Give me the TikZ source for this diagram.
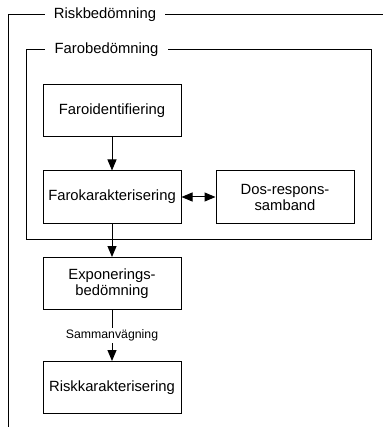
\documentclass[tikz,border=0pt]{standalone}
\usepackage{fontspec}
\setmainfont{Liberation Sans}
\usetikzlibrary{arrows.meta}
\tikzstyle{box}=[draw=black, line width=1pt, minimum width=138pt, minimum height=52pt, align=center, inner sep=0pt, font=\fontsize{14.8}{16}\selectfont]
\tikzstyle{frametitle}=[fill=white, inner sep=0pt, minimum height=16pt, font=\fontsize{14.8}{16}\selectfont]
\tikzstyle{pil}=[line width=1pt, -{Triangle[length=11pt,width=9pt]}]

\begin{document}
\begin{tikzpicture}[x=1pt,y=-1pt]
\useasboundingbox (0,0) rectangle (383,427);

% ramar
\draw [black, line width=1pt] (8,427) -- (8,15) -- (383,15);
\node [frametitle, minimum width=120pt] (riskram) at (105,15) {Riskbedömning};
\draw [black, line width=1pt] (26,50) rectangle (371,239);
\node [frametitle, minimum width=123pt] (faroram) at (106.5,50) {Farobedömning};

% rutor
\node [box] (faroid) at (112,111) {Faroidentifiering};
\node [box] (farokar) at (112,197) {Farokarakterisering};
\node [box] (dosresp) at (285,197) {Dos-respons-\\samband};
\node [box] (expo) at (112,283.5) {Exponerings-\\bedömning};
\node [box] (riskkar) at (112,387.5) {Riskkarakterisering};

% pilar
\draw [pil] (faroid) -- (farokar);
\draw [pil, {Triangle[length=11pt,width=9pt]}-{Triangle[length=11pt,width=9pt]}] (farokar) -- (dosresp);
\draw [pil] (farokar) -- (expo);
\draw [pil] (expo) -- node [fill=white, inner sep=2pt, font=\fontsize{12.3}{14}\selectfont] (samman) {Sammanvägning} (riskkar);
\end{tikzpicture}
\end{document}
